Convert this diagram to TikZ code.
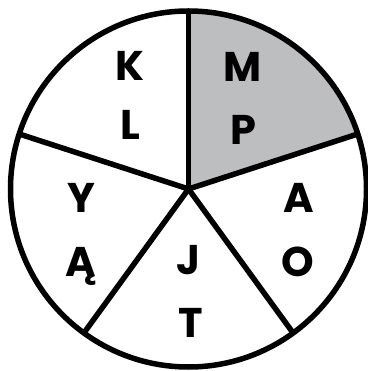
\documentclass[tikz,border=0pt]{standalone}
\usepackage{fontspec}
\setmainfont{Poppins}
\definecolor{sectorgray}{RGB}{189,190,192}
\begin{document}
\begin{tikzpicture}[x=1pt,y=1pt,
  rim/.style={line width=5.5pt},
  spoke/.style={line width=5.5pt},
  letter/.style={anchor=base,inner sep=0pt,font=\fontsize{41.5}{41.5}\selectfont\bfseries}]
\useasboundingbox (0,0) rectangle (367,371);
\def\R{178}
\coordinate (c) at (188.5,182);
\fill[sectorgray] (c) -- ++(90:\R) arc[start angle=90,end angle=18,radius=\R] -- cycle;
\foreach \a/\n in {90/p90,18/p18,-54/p54,-126/p126,162/p162}{
  \coordinate (\n) at ([shift={(\a:\R)}]c);
}
\draw[spoke] (c) -- (p90);
\draw[spoke] (c) -- (p18);
\draw[spoke] (c) -- (p54);
\draw[spoke] (c) -- (p126);
\draw[spoke] (c) -- (p162);
\draw[rim] (c) circle[radius=\R];
\node[letter] (K) at (130,371-80.7) {K};
\node[letter] (L) at (130.5,371-140) {L};
\node[letter] (M) at (243,371-82) {M};
\node[letter] (P) at (243.5,371-145) {P};
\node[letter] (Y) at (81,371-213) {Y};
\node[letter] (Aog) at (81,371-277) {Ą};
\node[letter] (J) at (188,371-275) {J};
\node[letter] (T) at (191,371-338) {T};
\node[letter] (A) at (299,371-213) {A};
\node[letter] (O) at (298,371-277) {O};
\end{tikzpicture}
\end{document}
